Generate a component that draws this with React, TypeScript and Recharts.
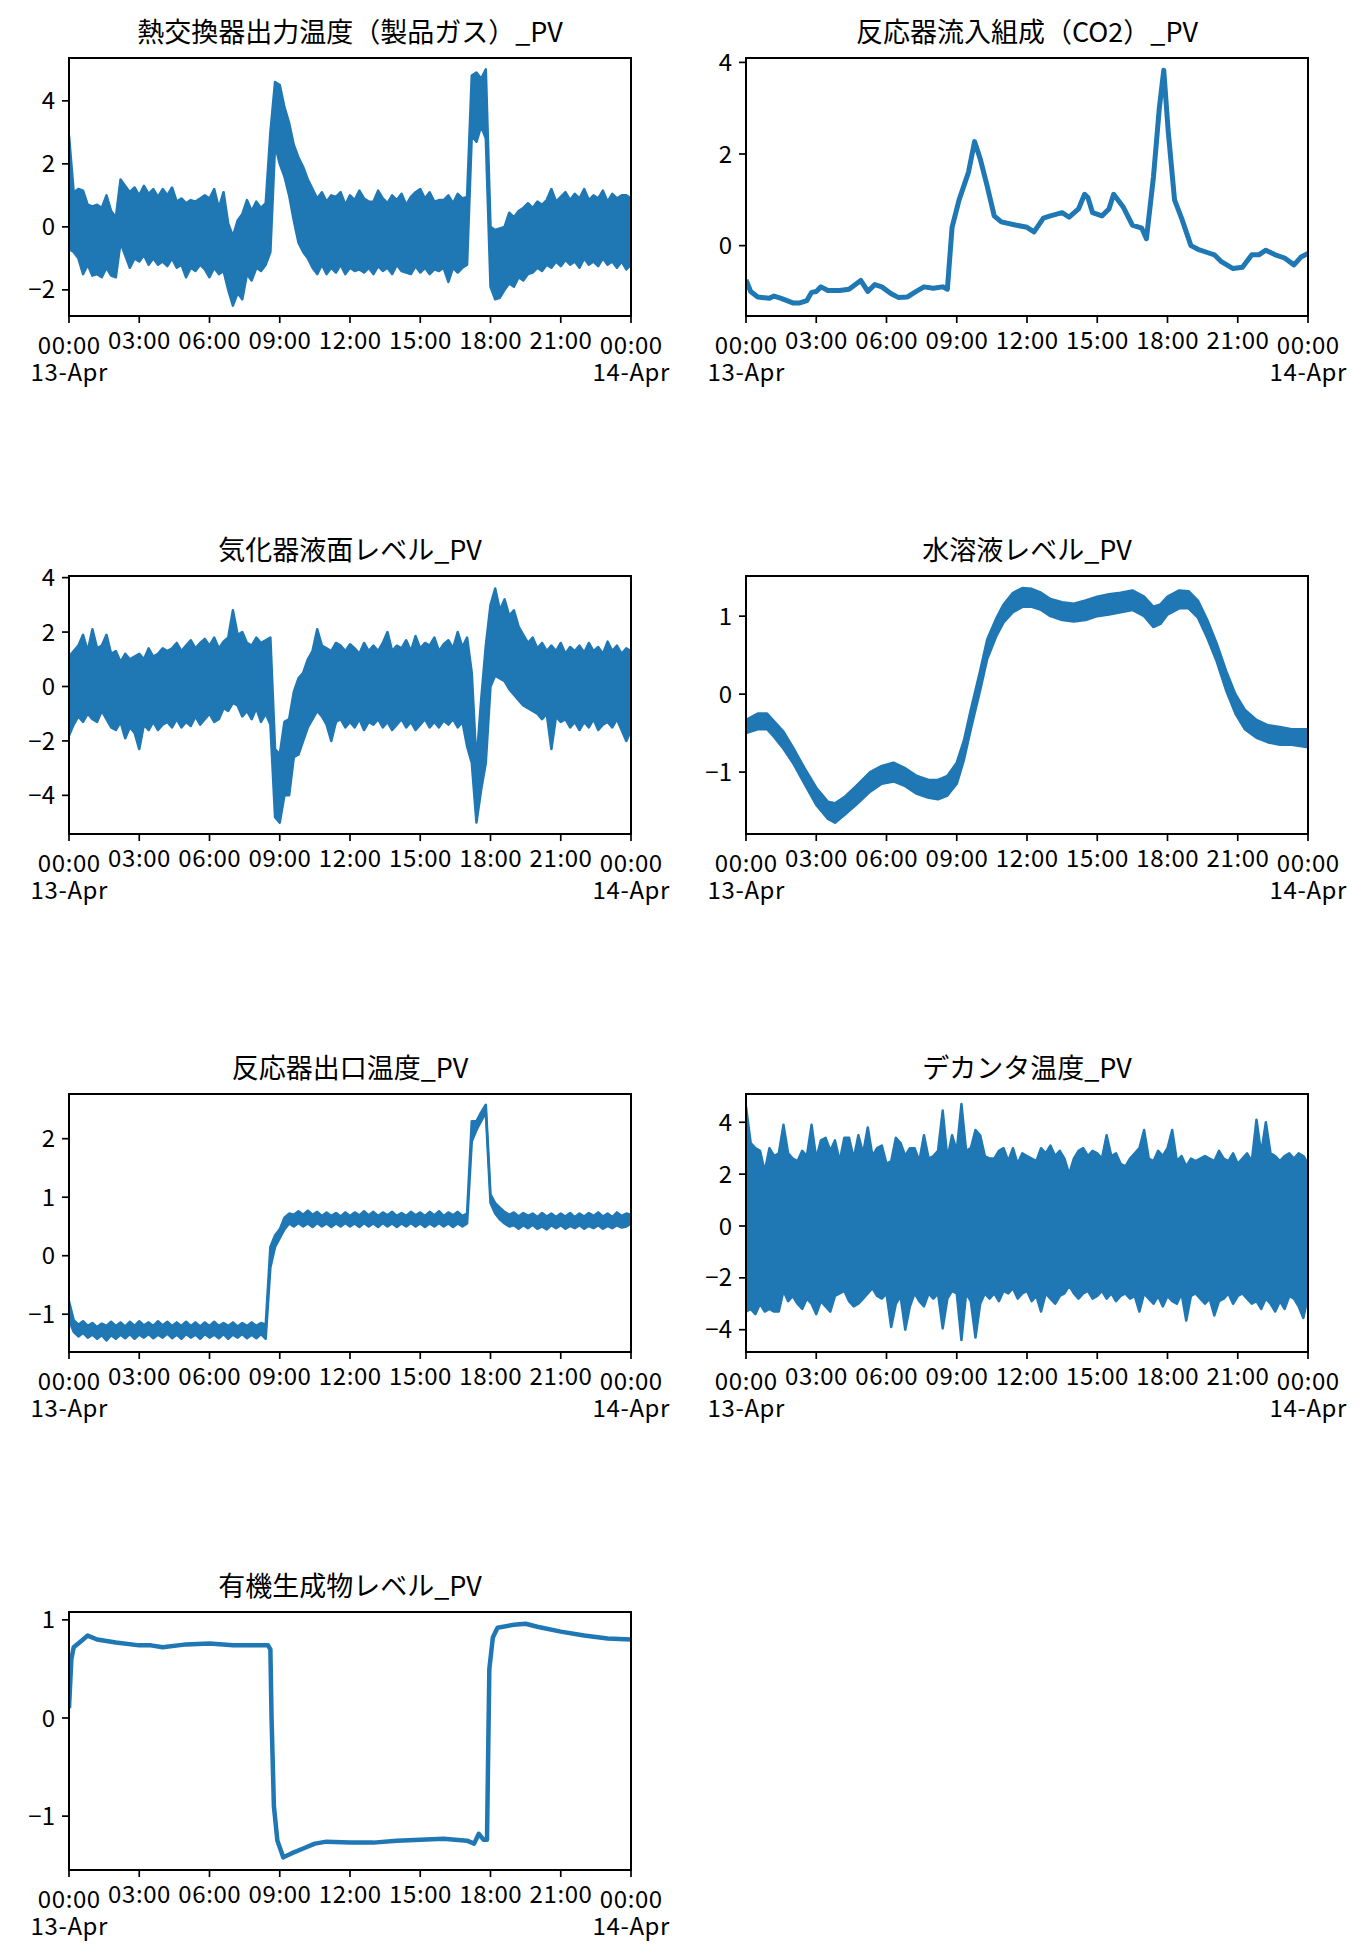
import React from 'react';
import { ComposedChart, XAxis, YAxis, Area, Line } from 'recharts';

const FONT = '"Noto Sans CJK JP", "Noto Sans", sans-serif';
const BLUE = '#1f77b4';

const PLOT_W = 562;
const PLOT_H = 258;
const COL_LEFTS = [69, 746];
const ROW_TOPS = [58, 576, 1094, 1612];

const TITLES = [
  '熱交換器出力温度（製品ガス）_PV',
  '反応器流入組成（CO2）_PV',
  '気化器液面レベル_PV',
  '水溶液レベル_PV',
  '反応器出口温度_PV',
  'デカンタ温度_PV',
  '有機生成物レベル_PV',
];

const X_TICKS = [0, 3, 6, 9, 12, 15, 18, 21, 24];
const X_TICK_LABELS = ['00:00', '03:00', '06:00', '09:00', '12:00', '15:00', '18:00', '21:00', '00:00'];
const X_DATE_LABELS = ['13-Apr', '', '', '', '', '', '', '', '14-Apr'];

// sampling grid (hours) for the densely sampled, noisy tags: every 0.2 h
const GRID_HOURS = Array.from({ length: 121 }, (_, i) => i / 5);

// 熱交換器出力温度 envelope (upper / lower edge of the noisy trace)
const heatHi = [
  2.9, 1.1, 1.2, 1.15, 0.7,
  0.65, 0.7, 0.6, 1.0, 0.5,
  0.3, 1.5, 1.3, 1.1, 1.25,
  1.0, 1.3, 1.05, 1.2, 0.95,
  1.2, 1.0, 1.25, 0.8, 0.9,
  0.75, 0.85, 0.8, 0.9, 1.0,
  0.9, 1.2, 0.6, 1.1, 0.1,
  -0.3, 0.2, 0.4, 0.85, 0.5,
  0.8, 0.6, 0.75, 3.0, 4.6,
  4.5, 3.8, 3.3, 2.6, 2.2,
  1.9, 1.5, 1.2, 0.9, 1.1,
  0.8, 1.0, 0.95, 1.1, 0.7,
  1.0, 0.85, 1.15, 0.9, 0.8,
  0.8, 1.15, 0.9, 0.75, 1.0,
  0.85, 1.05, 0.7, 0.95, 1.1,
  1.2, 0.9, 1.1, 0.8, 0.85,
  0.85, 1.0, 0.75, 1.05, 0.9,
  0.95, 4.8, 4.9, 4.7, 5.0,
  0.0, -0.1, -0.05, 0.0, 0.45,
  0.3, 0.5, 0.6, 0.75, 0.6,
  0.8, 0.7, 0.85, 1.2, 0.8,
  0.95, 1.1, 0.85, 1.05, 0.9,
  1.2, 0.85, 1.0, 0.9, 1.15,
  0.8, 1.05, 0.9, 1.0, 1.0,
  0.9,
];
const heatLo = [
  -0.7, -0.8, -1.0, -1.5, -1.2,
  -1.55, -1.5, -1.6, -1.3, -1.55,
  -1.6, -0.5, -0.9, -1.3, -1.0,
  -1.1, -0.9, -1.2, -1.0, -1.2,
  -1.1, -1.25, -1.0, -1.3, -1.2,
  -1.6, -1.3, -1.4, -1.2, -1.35,
  -1.6, -1.3, -1.5, -1.4, -2.0,
  -2.5, -2.1, -2.3, -1.5, -1.7,
  -1.3, -1.4, -1.2, -0.8, 2.6,
  2.0, 1.6, 1.0, 0.2, -0.5,
  -0.8, -1.0, -1.3, -1.5, -1.2,
  -1.5, -1.3, -1.45, -1.2, -1.5,
  -1.3, -1.4, -1.35, -1.45, -1.3,
  -1.5, -1.25, -1.4, -1.3, -1.5,
  -1.2, -1.4, -1.45, -1.5, -1.25,
  -1.45, -1.3, -1.5, -1.35, -1.4,
  -1.3, -1.75, -1.3, -1.45, -1.3,
  -1.2, 2.9, 2.7, 3.2, 2.8,
  -1.9, -2.3, -2.25, -2.0, -1.8,
  -1.9, -1.6, -1.7, -1.5, -1.45,
  -1.3, -1.4, -1.2, -1.3, -1.1,
  -1.25, -1.05, -1.2, -1.1, -1.3,
  -1.0, -1.2, -1.1, -1.25, -1.0,
  -1.2, -1.1, -1.3, -1.1, -1.35,
  -1.2,
];

// 反応器流入組成（CO2）
const co2Hours = [0, 0.2, 0.5, 1.0, 1.2, 1.5, 2.0, 2.3, 2.6, 2.8, 3.0, 3.2, 3.5, 4.0, 4.4, 4.9, 5.2, 5.5, 5.8, 6.2, 6.5, 6.9, 7.2, 7.6, 8.0, 8.4, 8.6, 8.8, 9.1, 9.5, 9.76, 10.0, 10.3, 10.6, 10.9, 11.5, 12.0, 12.3, 12.7, 13.0, 13.5, 13.8, 14.2, 14.46, 14.6, 14.8, 15.2, 15.5, 15.7, 16.1, 16.5, 16.9, 17.1, 17.4, 17.65, 17.84, 18.03, 18.3, 18.6, 19.0, 19.3, 19.7, 20.0, 20.3, 20.8, 21.2, 21.6, 21.9, 22.2, 22.6, 23.0, 23.4, 23.7, 24];
const co2Values = [-0.75, -1.0, -1.12, -1.15, -1.1, -1.15, -1.25, -1.25, -1.2, -1.02, -1.0, -0.9, -0.98, -0.98, -0.95, -0.76, -1.0, -0.85, -0.9, -1.05, -1.13, -1.12, -1.02, -0.9, -0.93, -0.9, -0.95, 0.4, 1.0, 1.6, 2.27, 1.9, 1.3, 0.65, 0.52, 0.45, 0.4, 0.3, 0.6, 0.65, 0.72, 0.62, 0.8, 1.12, 1.05, 0.72, 0.65, 0.8, 1.12, 0.85, 0.45, 0.38, 0.15, 1.5, 3.0, 3.83, 2.5, 1.0, 0.6, 0.0, -0.08, -0.15, -0.2, -0.35, -0.5, -0.47, -0.2, -0.2, -0.1, -0.2, -0.27, -0.42, -0.25, -0.17];

// 気化器液面レベル envelope
const vapHi = [
  1.1, 1.3, 1.5, 1.9, 1.3,
  2.1, 1.4, 1.5, 1.9, 1.2,
  1.3, 0.9, 1.2, 1.0, 1.1,
  1.2, 1.0, 1.4, 1.1, 1.2,
  1.4, 1.3, 1.4, 1.6, 1.3,
  1.5, 1.7, 1.4, 1.6, 1.75,
  1.5, 1.8, 1.4, 1.65, 1.8,
  2.8, 1.9, 2.0, 1.6, 1.5,
  1.8, 1.6, 1.7, 1.8, -2.3,
  -2.5, -1.3, -1.2, -0.2, 0.3,
  0.5, 1.0, 1.3, 2.1, 1.5,
  1.4, 1.3, 1.6, 1.5, 1.3,
  1.55, 1.4, 1.2, 1.6, 1.3,
  1.5, 1.3, 1.6, 2.0, 1.3,
  1.5, 1.4, 1.7, 1.3, 1.85,
  1.4, 1.6, 1.5, 1.8, 1.3,
  1.55, 1.7, 1.4, 2.0, 1.45,
  1.8, 0.5, -2.8, -0.5, 1.5,
  3.0, 3.6, 2.8, 3.2, 2.6,
  2.8, 2.2, 1.9, 1.6, 1.8,
  1.4, 1.6, 1.3, 1.5, 1.3,
  1.6, 1.2, 1.45, 1.3, 1.5,
  1.25, 1.6, 1.3, 1.45, 1.2,
  1.65, 1.3, 1.5, 1.2, 1.4,
  1.3,
];
const vapLo = [
  -1.8, -1.4, -1.1, -1.3, -1.0,
  -1.2, -1.3, -0.9, -1.2, -1.5,
  -1.6, -1.3, -1.9, -1.5, -1.7,
  -2.3, -1.4, -1.6, -1.3, -1.6,
  -1.4, -1.3, -1.5, -1.2, -1.5,
  -1.3, -1.45, -1.1, -1.4, -1.2,
  -1.0, -1.3, -1.2, -0.8, -0.9,
  -0.6, -0.7, -1.1, -0.9, -1.2,
  -0.8, -1.3, -1.0, -1.4, -4.8,
  -5.0, -4.0, -4.0, -2.6, -2.5,
  -2.0, -1.5, -1.2, -0.9, -1.1,
  -1.4, -2.0, -1.3, -1.2, -1.5,
  -1.3, -1.5, -1.2, -1.6, -1.3,
  -1.4, -1.2, -1.5, -1.3, -1.6,
  -1.4, -1.2, -1.5, -1.3, -1.6,
  -1.4, -1.2, -1.5, -1.3, -1.5,
  -1.25, -1.4, -1.2, -1.5, -1.3,
  -2.2, -2.8, -5.0, -3.8, -2.8,
  0.0, 0.4, 0.3, 0.2, -0.1,
  -0.3, -0.5, -0.7, -0.8, -0.9,
  -1.0, -1.2, -1.0, -2.3, -1.1,
  -1.3, -1.2, -1.5, -1.3, -1.6,
  -1.3, -1.5, -1.2, -1.6, -1.4,
  -1.3, -1.5, -1.2, -1.6, -2.0,
  -1.6,
];

// 水溶液レベル envelope
const aqHours = [0, 0.5, 0.9, 1.2, 1.6, 2.0, 2.5, 3.0, 3.5, 3.8, 4.2, 4.7, 5.3, 5.8, 6.3, 6.8, 7.3, 7.8, 8.2, 8.6, 9.0, 9.3, 9.6, 10.0, 10.3, 10.7, 11.0, 11.4, 11.8, 12.2, 12.6, 13.0, 13.5, 14.0, 14.5, 15.0, 15.5, 16.0, 16.5, 17.0, 17.4, 17.7, 18.0, 18.5, 18.9, 19.3, 19.7, 20.1, 20.5, 20.9, 21.3, 21.8, 22.3, 22.8, 23.3, 24];
const aqHi = [-0.33, -0.25, -0.25, -0.35, -0.48, -0.68, -0.95, -1.2, -1.38, -1.4, -1.32, -1.18, -1.0, -0.92, -0.88, -0.95, -1.05, -1.1, -1.1, -1.05, -0.88, -0.6, -0.2, 0.3, 0.7, 0.98, 1.15, 1.3, 1.36, 1.35, 1.3, 1.22, 1.18, 1.16, 1.2, 1.25, 1.28, 1.3, 1.33, 1.25, 1.12, 1.15, 1.25, 1.33, 1.32, 1.2, 0.95, 0.65, 0.3, 0.0, -0.2, -0.33, -0.4, -0.42, -0.45, -0.45];
const aqLo = [-0.5, -0.45, -0.45, -0.55, -0.7, -0.88, -1.15, -1.42, -1.6, -1.65, -1.55, -1.42, -1.25, -1.15, -1.12, -1.18, -1.28, -1.33, -1.35, -1.3, -1.15, -0.85, -0.45, 0.05, 0.45, 0.75, 0.92, 1.05, 1.12, 1.12, 1.08, 1.0, 0.95, 0.93, 0.95, 1.0, 1.02, 1.05, 1.08, 1.0, 0.86, 0.9, 1.02, 1.1, 1.1, 0.98, 0.72, 0.42, 0.05, -0.25, -0.45, -0.56, -0.62, -0.65, -0.65, -0.68];

// 反応器出口温度 envelope
const rxHi = [
  -0.78, -1.1, -1.18, -1.12, -1.2,
  -1.15, -1.22, -1.16, -1.2, -1.13,
  -1.2, -1.14, -1.21, -1.13, -1.2,
  -1.12, -1.19, -1.14, -1.2, -1.12,
  -1.19, -1.13, -1.2, -1.14, -1.2,
  -1.13, -1.2, -1.14, -1.21, -1.14,
  -1.2, -1.13, -1.2, -1.15, -1.2,
  -1.14, -1.21, -1.15, -1.2, -1.14,
  -1.2, -1.15, -1.18, 0.15, 0.35,
  0.45, 0.65, 0.72, 0.7, 0.76,
  0.7, 0.77, 0.7, 0.75, 0.68,
  0.74, 0.68, 0.73, 0.67, 0.74,
  0.68, 0.74, 0.69, 0.76, 0.69,
  0.75, 0.68, 0.74, 0.69, 0.75,
  0.68, 0.73, 0.68, 0.75, 0.69,
  0.74, 0.68, 0.75, 0.69, 0.76,
  0.68, 0.74, 0.69, 0.75, 0.68,
  0.72, 2.3, 2.3, 2.45, 2.58,
  1.05, 0.9, 0.82, 0.75, 0.7,
  0.74, 0.67, 0.73, 0.68, 0.72,
  0.66, 0.73, 0.67, 0.72, 0.66,
  0.72, 0.67, 0.73, 0.66, 0.72,
  0.67, 0.73, 0.68, 0.74, 0.67,
  0.72, 0.66, 0.74, 0.68, 0.72,
  0.7,
];
const rxLo = [
  -1.1, -1.3, -1.38, -1.32, -1.4,
  -1.35, -1.42, -1.36, -1.45, -1.36,
  -1.42, -1.35, -1.41, -1.34, -1.42,
  -1.35, -1.4, -1.34, -1.41, -1.35,
  -1.4, -1.33, -1.41, -1.35, -1.42,
  -1.34, -1.4, -1.35, -1.42, -1.34,
  -1.4, -1.35, -1.41, -1.34, -1.42,
  -1.35, -1.4, -1.34, -1.41, -1.35,
  -1.41, -1.34, -1.42, -0.2, 0.15,
  0.3, 0.45, 0.55, 0.5, 0.56,
  0.5, 0.55, 0.49, 0.56, 0.5,
  0.55, 0.49, 0.55, 0.5, 0.56,
  0.5, 0.55, 0.49, 0.56, 0.5,
  0.55, 0.49, 0.56, 0.5, 0.55,
  0.49, 0.55, 0.5, 0.56, 0.5,
  0.55, 0.49, 0.55, 0.5, 0.56,
  0.5, 0.55, 0.49, 0.55, 0.5,
  0.55, 1.95, 2.15, 2.3, 2.45,
  0.9, 0.72, 0.62, 0.55, 0.5,
  0.52, 0.46, 0.52, 0.47, 0.53,
  0.46, 0.5, 0.45, 0.52, 0.47,
  0.52, 0.46, 0.51, 0.47, 0.52,
  0.46, 0.51, 0.47, 0.52, 0.46,
  0.51, 0.47, 0.52, 0.48, 0.5,
  0.55,
];

// デカンタ温度 envelope
const decHi = [
  4.6, 3.2, 3.0, 2.9, 2.1,
  3.0, 2.7, 2.8, 3.9, 2.8,
  2.6, 2.5, 2.9, 2.7, 3.9,
  2.6, 3.3, 3.4, 2.9, 3.3,
  2.5, 3.4, 3.4, 2.6, 3.5,
  2.8, 3.8, 2.7, 3.0, 3.1,
  2.4, 2.5, 3.4, 3.2, 2.7,
  3.0, 3.0, 2.5, 3.5, 2.6,
  2.7, 2.9, 4.45, 2.6, 3.5,
  2.9, 4.7, 2.9, 3.0, 3.7,
  3.5, 2.7, 2.6, 2.6, 2.9,
  3.0, 2.5, 3.0, 2.4, 2.8,
  2.7, 2.6, 2.5, 3.0, 2.8,
  3.1, 2.7, 2.9, 2.6, 2.0,
  2.6, 2.9, 3.0, 2.7, 2.9,
  2.8, 2.6, 3.5, 2.7, 2.8,
  2.4, 2.3, 2.6, 2.8, 3.0,
  3.7, 2.6, 2.5, 2.9, 2.7,
  3.0, 3.7, 2.5, 2.7, 2.3,
  2.6, 2.5, 2.6, 2.7, 2.6,
  2.5, 2.9, 2.6, 2.5, 2.8,
  2.4, 2.6, 2.8, 2.5, 4.1,
  2.8, 4.0, 2.8, 2.7, 2.5,
  2.7, 2.8, 2.6, 2.8, 2.7,
  2.4,
];
const decLo = [
  -3.3, -3.2, -3.4, -3.0, -3.3,
  -3.2, -3.3, -3.3, -2.5, -2.9,
  -2.7, -3.0, -3.2, -2.8, -3.0,
  -3.4, -2.9, -3.1, -3.3, -2.7,
  -2.6, -2.5, -2.9, -3.1, -3.0,
  -2.8, -2.6, -2.4, -2.7, -2.8,
  -2.6, -3.9, -3.0, -2.7, -4.0,
  -3.1, -2.6, -2.9, -3.1, -2.6,
  -2.8, -2.6, -3.95, -2.8, -2.5,
  -2.6, -4.4, -2.6, -2.9, -4.3,
  -3.0, -2.6, -2.8, -2.6, -2.9,
  -2.5, -2.6, -2.4, -2.8, -2.6,
  -2.5, -2.9, -2.7, -3.3, -2.6,
  -2.8, -3.0, -2.7, -2.6, -2.3,
  -2.6, -2.8, -2.6, -2.5, -2.8,
  -2.7, -2.5, -2.8, -2.6, -2.9,
  -2.7, -2.6, -2.8, -2.7, -3.3,
  -2.6, -2.8, -3.0, -2.7, -3.1,
  -2.7, -2.9, -3.0, -2.6, -3.65,
  -2.7, -2.6, -2.8, -3.0, -2.8,
  -3.45, -2.9, -2.8, -2.6, -3.0,
  -2.7, -2.6, -2.8, -3.0, -2.9,
  -3.2, -2.8, -3.0, -3.3, -2.9,
  -3.2, -2.7, -2.8, -3.1, -3.55,
  -2.7,
];

// 有機生成物レベル
const orgHours = [0, 0.1, 0.2, 0.5, 0.8, 1.2, 2, 3, 3.5, 4, 5, 6, 7, 8, 8.5, 8.6, 8.65, 8.75, 8.9, 9.15, 9.5, 10, 10.5, 11, 12, 13, 14, 15, 16, 17, 17.3, 17.5, 17.7, 17.85, 17.95, 18.1, 18.3, 19, 19.5, 20, 21, 22, 23, 24];
const orgValues = [0.1, 0.6, 0.72, 0.78, 0.84, 0.8, 0.77, 0.74, 0.74, 0.72, 0.75, 0.76, 0.74, 0.74, 0.74, 0.7, 0.0, -0.9, -1.25, -1.42, -1.38, -1.33, -1.28, -1.26, -1.27, -1.27, -1.25, -1.24, -1.23, -1.25, -1.28, -1.18, -1.24, -1.24, 0.5, 0.82, 0.92, 0.95, 0.96, 0.93, 0.88, 0.84, 0.81, 0.8];

const bandRows = (hours: number[], lo: number[], hi: number[]) =>
  hours.map((t, i) => ({ t, band: [lo[i], hi[i]] }));
const lineRows = (hours: number[], v: number[]) => hours.map((t, i) => ({ t, v: v[i] }));

type PanelCfg = {
  title: string;
  col: number;
  row: number;
  data: any[];
  kind: 'band' | 'line';
  yDomain: [number, number];
  yTicks: number[];
  yLabels: string[];
  strokeWidth: number;
};

const PANELS: PanelCfg[] = [
  { title: TITLES[0], col: 0, row: 0, data: bandRows(GRID_HOURS, heatLo, heatHi), kind: 'band', yDomain: [-2.83, 5.36], yTicks: [-2, 0, 2, 4], yLabels: ['\u22122', '0', '2', '4'], strokeWidth: 2.5 },
  { title: TITLES[1], col: 1, row: 0, data: lineRows(co2Hours, co2Values), kind: 'line', yDomain: [-1.536, 4.096], yTicks: [0, 2, 4], yLabels: ['0', '2', '4'], strokeWidth: 5 },
  { title: TITLES[2], col: 0, row: 1, data: bandRows(GRID_HOURS, vapLo, vapHi), kind: 'band', yDomain: [-5.42, 4.06], yTicks: [-4, -2, 0, 2, 4], yLabels: ['\u22124', '\u22122', '0', '2', '4'], strokeWidth: 2.5 },
  { title: TITLES[3], col: 1, row: 1, data: bandRows(aqHours, aqLo, aqHi), kind: 'band', yDomain: [-1.794, 1.515], yTicks: [-1, 0, 1], yLabels: ['\u22121', '0', '1'], strokeWidth: 2.5 },
  { title: TITLES[4], col: 0, row: 2, data: bandRows(GRID_HOURS, rxLo, rxHi), kind: 'band', yDomain: [-1.646, 2.764], yTicks: [-1, 0, 1, 2], yLabels: ['\u22121', '0', '1', '2'], strokeWidth: 2.5 },
  { title: TITLES[5], col: 1, row: 2, data: bandRows(GRID_HOURS, decLo, decHi), kind: 'band', yDomain: [-4.86, 5.09], yTicks: [-4, -2, 0, 2, 4], yLabels: ['\u22124', '\u22122', '0', '2', '4'], strokeWidth: 2.5 },
  { title: TITLES[6], col: 0, row: 3, data: lineRows(orgHours, orgValues), kind: 'line', yDomain: [-1.549, 1.08], yTicks: [-1, 0, 1], yLabels: ['\u22121', '0', '1'], strokeWidth: 4.5 },
];

const TOP_M = 20;
const RIGHT_M = 45;
const Y_AXIS_W = 64;
const X_AXIS_H = 75;
const TICK_FONT = 24;
const TICK_SPACING = 0.6;

function makeTimeTick(axisY: number) {
  return (props: any) => {
    const { x, payload } = props;
    const idx = X_TICKS.indexOf(payload.value);
    const label = X_TICK_LABELS[idx];
    const date = X_DATE_LABELS[idx];
    const tx = x + TICK_SPACING / 2;
    const common = {
      textAnchor: 'middle' as const, fontSize: TICK_FONT, fontFamily: FONT, fill: '#000',
      letterSpacing: TICK_SPACING,
    };
    if (date) {
      return (
        <text x={tx} y={axisY + 29} dy="0.36em" {...common}>
          <tspan x={tx}>{label}</tspan>
          <tspan x={tx} dy={27}>{date}</tspan>
        </text>
      );
    }
    return (
      <text x={tx} y={axisY + 24} dy="0.36em" {...common}>{label}</text>
    );
  };
}

function makeValueTick(labels: string[], ticks: number[]) {
  return (props: any) => {
    const { x, y, payload } = props;
    const label = labels[ticks.indexOf(payload.value)];
    return (
      <text x={x} y={y} dy="0.36em" textAnchor="end" fontSize={TICK_FONT} fontFamily={FONT} fill="#000">
        {label}
      </text>
    );
  };
}

function Panel({ cfg }: { cfg: PanelCfg }) {
  const left = COL_LEFTS[cfg.col];
  const top = ROW_TOPS[cfg.row];
  const W = Y_AXIS_W + PLOT_W + RIGHT_M;
  const H = TOP_M + PLOT_H + X_AXIS_H;
  const axisY = TOP_M + PLOT_H;
  return (
    <>
      <div
        style={{
          position: 'absolute', left, top: top - 45, width: PLOT_W, height: 36,
          lineHeight: '36px', fontSize: 27, fontFamily: FONT, textAlign: 'center',
          whiteSpace: 'nowrap', color: '#000',
        }}
      >
        {cfg.title}
      </div>
      <div style={{ position: 'absolute', left: left - Y_AXIS_W, top: top - TOP_M, width: W, height: H }}>
        <ComposedChart width={W} height={H} data={cfg.data} margin={{ top: TOP_M, right: RIGHT_M, bottom: 0, left: 0 }}>
          <XAxis
            type="number" dataKey="t" domain={[0, 24]} ticks={X_TICKS} interval={0}
            height={X_AXIS_H} axisLine={false} stroke="#000"
            tickLine={{ stroke: '#000', strokeWidth: 1.7 }} tickSize={7}
            tick={makeTimeTick(axisY)} allowDataOverflow
          />
          <YAxis
            type="number" domain={cfg.yDomain} ticks={cfg.yTicks} interval={0} width={Y_AXIS_W}
            allowDataOverflow axisLine={false} stroke="#000"
            tickLine={{ stroke: '#000', strokeWidth: 1.7 }} tickSize={7} tickMargin={7}
            tick={makeValueTick(cfg.yLabels, cfg.yTicks)}
          />
          {cfg.kind === 'band' ? (
            <Area
              type="linear" dataKey="band" stroke={BLUE} strokeWidth={cfg.strokeWidth}
              strokeLinejoin="round" fill={BLUE} fillOpacity={1}
              isAnimationActive={false} dot={false} activeDot={false}
            />
          ) : (
            <Line
              type="linear" dataKey="v" stroke={BLUE} strokeWidth={cfg.strokeWidth}
              strokeLinejoin="round" dot={false} activeDot={false} isAnimationActive={false}
            />
          )}
        </ComposedChart>
      </div>
      <div
        style={{
          position: 'absolute', left: left - 1, top: top - 1, width: PLOT_W + 2, height: PLOT_H + 2,
          border: '2px solid #000', boxSizing: 'border-box', pointerEvents: 'none',
        }}
      />
    </>
  );
}

export default function App() {
  return (
    <div style={{ position: 'absolute', left: 0, top: 0, width: 1368, height: 1959, background: '#fff' }}>
      {PANELS.map((p, i) => (
        <Panel key={i} cfg={p} />
      ))}
    </div>
  );
}
